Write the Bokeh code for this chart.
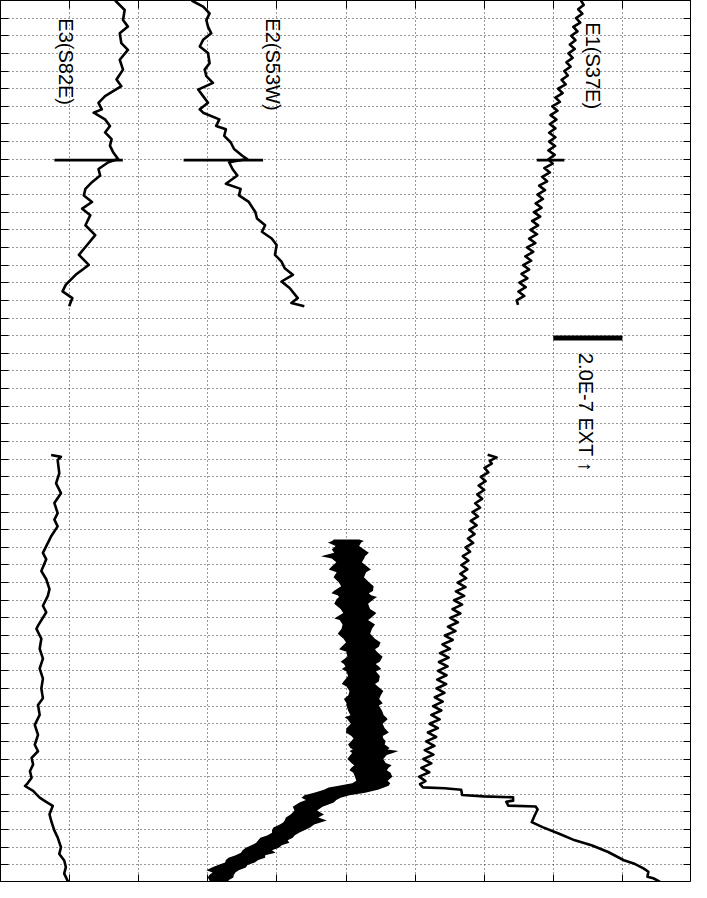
import math
from bokeh.plotting import figure
from bokeh.models import Range1d, FixedTicker, LinearAxis
from bokeh.core.properties import value
from bokeh.embed import file_html
from bokeh.resources import INLINE

# Strain axis: 10 units per grid division (one division = 2.0E-7 extension)
# Time axis: grid rows (0 at top, 50 at bottom)
X_GRID = [0, 10, 20, 30, 40, 50, 60, 70, 80, 90, 100]
T_GRID = list(range(0, 51))

# ---- E1 (S37E), first record ----
E1_TOP_T = [0.0, 0.25, 0.5, 0.75, 1.0, 1.25, 1.5, 1.75, 2.0, 2.25, 2.5, 2.75, 3.0, 3.25, 3.5, 3.75,
            4.0, 4.25, 4.5, 4.75, 5.0, 5.25, 5.5, 5.75, 6.0, 6.25, 6.5, 6.75, 7.0, 7.25, 7.5, 7.75,
            8.0, 8.25, 8.5, 8.75, 9.0, 9.25, 9.5, 9.75, 10.0, 10.25, 10.5, 10.75, 11.0, 11.25, 11.5,
            11.75, 12.0, 12.25, 12.5, 12.75, 13.0, 13.25, 13.5, 13.75, 14.0, 14.25, 14.5, 14.75,
            15.0, 15.25, 15.5, 15.75, 16.0, 16.25, 16.5, 16.75, 17.0, 17.25]
E1_TOP_X = [84.0, 84.4, 83.6, 84.2, 83.3, 83.9, 82.9, 83.5, 82.6, 83.2, 82.4, 83.1, 82.2, 82.8, 81.9,
            82.5, 81.6, 82.1, 81.2, 81.8, 80.7, 81.35, 80.3, 80.95, 79.85, 80.6, 79.6, 80.45, 79.5,
            80.3, 79.4, 80.3, 79.4, 80.25, 79.3, 80.2, 79.3, 79.9, 78.7, 79.5, 78.4, 79.1, 77.95,
            78.8, 77.7, 78.5, 77.45, 78.3, 77.2, 78.1, 76.95, 77.8, 76.7, 77.65, 76.5, 77.4, 76.2,
            77.1, 75.95, 76.8, 75.65, 76.5, 75.4, 76.25, 75.1, 76.0, 74.95, 75.8, 74.7, 74.9]

# ---- E2 (S53W), first record ----
E2_TOP_T = [0.0, 0.35, 0.73, 1.11, 1.48, 1.86, 2.23, 2.61, 2.98, 3.55, 3.92, 4.29, 4.67, 5.05, 5.42,
            5.80, 6.17, 6.36, 6.74, 7.11, 7.30, 7.67, 8.05, 8.42, 8.80, 8.99, 9.17, 9.55, 9.92,
            10.39, 10.68, 11.05, 11.42, 11.99, 12.36, 12.74, 13.11, 13.49, 13.86, 14.42, 14.80,
            15.18, 15.55, 15.93, 16.30, 16.87, 17.15, 17.33]
E2_TOP_X = [27.66, 29.32, 30.26, 29.79, 30.03, 30.50, 29.32, 28.84, 30.03, 30.26, 29.55, 29.79,
            30.74, 28.61, 29.32, 30.03, 28.84, 29.32, 31.67, 31.21, 32.62, 32.38, 33.33, 33.80,
            34.99, 35.70, 33.09, 33.57, 34.28, 32.62, 34.75, 34.51, 35.93, 36.88, 37.12, 38.30,
            37.83, 39.25, 39.96, 39.72, 40.67, 41.13, 42.31, 40.67, 41.84, 43.02, 42.09, 43.97]

# ---- E3 (S82E), first record ----
E3_TOP_T = [0.0, 0.54, 1.11, 1.48, 1.86, 2.42, 2.80, 3.36, 3.92, 4.48, 4.86, 5.42, 5.80, 6.17, 6.36,
            6.74, 7.11, 7.48, 7.86, 8.23, 8.61, 8.99, 9.17, 9.55, 9.92, 10.30, 10.68, 11.05, 11.42,
            11.80, 12.17, 12.74, 13.30, 13.86, 14.42, 14.99, 15.55, 16.11, 16.49, 16.87, 17.33]
E3_TOP_X = [16.6, 17.97, 17.73, 18.44, 17.26, 17.49, 18.44, 17.26, 17.73, 16.79, 17.49, 15.13, 14.18,
            14.66, 13.48, 15.13, 15.84, 15.13, 16.08, 15.84, 16.31, 17.02, 15.60, 14.18, 14.42,
            13.24, 12.29, 12.06, 13.24, 11.82, 13.00, 12.29, 13.71, 12.53, 11.35, 12.77, 10.87,
            9.46, 8.98, 10.40, 9.93]

# ---- E1, second record ----
E1_BOT_T = [25.75, 25.9, 26.1, 26.25, 26.5, 26.75, 27.0, 27.25, 27.5, 27.75, 28.0, 28.25, 28.5, 28.75,
            29.0, 29.25, 29.5, 29.75, 30.0, 30.25, 30.5, 30.75, 31.0, 31.25, 31.5, 31.75, 32.0,
            32.25, 32.5, 32.75, 33.0, 33.25, 33.5, 33.75, 34.0, 34.25, 34.5, 34.75, 35.0, 35.25,
            35.5, 35.75, 36.0, 36.25, 36.5, 36.75, 37.0, 37.25, 37.5, 37.75, 38.0, 38.25, 38.5,
            38.75, 39.0, 39.25, 39.5, 39.75, 40.0, 40.25, 40.5, 40.75, 41.0, 41.25, 41.5, 41.75,
            42.0, 42.25, 42.5, 42.75, 43.0, 43.25, 43.5, 43.75, 44.0, 44.25, 44.42, 44.61, 44.66,
            44.74, 45.04, 45.12, 45.17, 45.36, 45.42, 45.64, 45.69, 45.86, 46.2, 46.58, 46.86,
            47.24, 47.61, 47.89, 48.27, 48.74, 48.92, 49.2, 49.39, 49.67, 49.76, 49.96]
E1_BOT_X = [70.5, 71.8, 70.8, 71.1, 70.05, 70.6, 69.5, 70.2, 69.2, 70.0, 69.0, 69.7, 68.7, 69.4,
            68.3, 69.1, 68.05, 68.9, 67.85, 68.6, 67.65, 68.4, 67.3, 67.95, 66.9, 67.7, 66.7,
            67.55, 66.55, 67.4, 66.15, 67.3, 65.9, 67.1, 65.65, 66.8, 65.4, 66.55, 65.1, 66.2,
            64.75, 65.85, 64.3, 65.45, 63.95, 65.05, 63.6, 64.85, 63.45, 64.7, 63.3, 64.55, 63.2,
            64.5, 63.1, 64.25, 62.85, 64.0, 62.6, 63.8, 62.35, 63.55, 62.1, 63.3, 61.85, 63.05,
            61.6, 62.8, 61.4, 62.65, 61.2, 62.35, 60.9, 62.05, 60.6, 61.5, 60.71, 61.13, 64.26,
            66.67, 66.81, 69.93, 74.18, 74.18, 73.19, 73.48, 77.45, 77.73, 77.30, 76.88, 78.44,
            80.85, 83.12, 85.53, 87.94, 90.21, 91.63, 93.05, 93.76, 93.62, 94.47, 95.46]

# ---- E2, second record (noisy band: left / right envelope) ----
E2_BAND_T = [30.56, 30.64, 30.73, 30.92, 31.12, 31.3, 31.51, 31.63,
             31.85, 32.08, 32.25, 32.41, 32.7, 32.98, 33.2, 33.48,
             33.6, 33.71, 33.82, 33.93, 34.2, 34.5, 34.72, 34.95,
             35.03, 35.12, 35.37, 35.62, 35.9, 36.18, 36.4, 36.64,
             36.78, 36.92, 37.2, 37.48, 37.62, 37.76, 37.9, 38.04,
             38.3, 38.61, 38.75, 38.89, 39.15, 39.39, 39.6, 39.84,
             39.96, 40.25, 40.52, 40.63, 40.74, 41.0, 41.25, 41.5,
             41.7, 41.84, 41.98, 42.18, 42.37, 42.46, 42.54, 42.66,
             42.77, 43.0, 43.22, 43.36, 43.5, 43.64, 43.78, 44.0,
             44.23, 44.37, 44.51, 44.62, 44.74, 44.91, 45.05, 45.19,
             45.33, 45.47, 45.7, 45.92, 46.14, 46.31, 46.48, 46.6,
             46.71, 46.88, 47.04, 47.18, 47.33, 47.47, 47.61, 47.75,
             47.89, 48.03, 48.17, 48.31, 48.45, 48.59, 48.73, 48.87,
             49.01, 49.15, 49.3, 49.44, 49.58, 49.72, 49.86, 50.0]
E2_BAND_LO = [48.23, 48.0, 47.38, 48.5, 47.94, 48.3, 46.38, 47.94,
              48.6, 47.94, 47.5, 48.65, 48.2, 48.94, 49.3, 48.23,
              47.9, 48.79, 49.0, 48.65, 48.3, 49.22, 49.6, 48.65,
              48.3, 49.08, 49.5, 49.36, 48.8, 49.65, 50.0, 49.36,
              49.0, 50.07, 50.2, 49.22, 49.7, 49.93, 49.4, 50.07,
              50.3, 49.65, 49.4, 50.07, 50.5, 50.35, 49.7, 50.07,
              50.07, 50.3, 50.64, 49.8, 50.21, 50.7, 50.07, 50.0,
              50.78, 51.1, 50.78, 50.3, 50.64, 51.0, 50.5, 50.9,
              50.64, 50.2, 50.78, 51.2, 50.78, 50.5, 51.06, 51.3,
              51.49, 50.9, 48.94, 47.5, 46.81, 45.39, 44.0, 43.55,
              44.2, 43.26, 42.3, 42.55, 41.99, 41.3, 41.13, 40.9,
              40.43, 39.5, 39.29, 39.3, 38.58, 37.6, 37.3, 37.0,
              36.31, 35.5, 35.04, 34.8, 34.04, 33.0, 32.62, 32.5,
              31.49, 30.6, 29.79, 30.7, 30.21, 30.0, 30.21, 30.35]
E2_BAND_HI = [51.91, 52.6, 52.2, 51.9, 52.62, 53.3, 52.77, 52.62,
              52.3, 53.05, 53.6, 52.91, 52.6, 53.33, 54.0, 53.9,
              53.3, 53.62, 54.5, 54.04, 53.2, 53.48, 54.4, 53.76,
              53.5, 53.19, 54.2, 53.76, 53.5, 54.18, 55.0, 54.75,
              54.2, 54.47, 55.3, 54.89, 54.3, 54.75, 55.1, 54.33,
              54.9, 54.75, 54.2, 54.61, 55.4, 55.04, 54.8, 55.32,
              54.75, 55.2, 55.46, 55.8, 56.03, 55.3, 55.6, 56.2,
              55.32, 55.4, 55.74, 55.6, 56.31, 56.0, 57.59, 56.8,
              55.89, 55.4, 55.74, 56.6, 56.17, 55.9, 56.45, 56.7,
              56.03, 56.4, 56.17, 55.5, 54.61, 52.77, 50.5, 49.22,
              48.6, 48.23, 46.6, 45.82, 46.81, 46.0, 47.23, 46.3,
              45.39, 44.8, 43.97, 43.2, 42.55, 42.3, 41.56, 41.8,
              40.71, 40.3, 39.29, 39.8, 38.3, 38.3, 37.3, 36.8,
              35.74, 35.5, 34.47, 34.0, 33.76, 33.7, 33.05, 32.91]

# ---- E3, second record ----
E3_BOT_T = [25.77, 25.87, 26.06, 26.80, 27.37, 27.93, 28.49, 29.06, 29.43, 29.81, 30.37, 30.56,
            31.31, 31.68, 32.34, 32.81, 33.37, 33.75, 34.31, 34.68, 35.44, 35.62, 36.18, 36.75,
            37.31, 37.87, 38.44, 39.00, 39.56, 39.94, 40.50, 41.06, 41.63, 42.19, 42.56, 42.94,
            43.31, 43.69, 44.06, 44.44, 44.53, 44.81, 45.19, 45.37, 45.66, 46.13, 46.50, 47.06,
            47.44, 48.00, 48.38, 48.75, 49.13, 49.50, 49.88, 50.0]
E3_BOT_X = [7.33, 8.75, 8.27, 8.51, 8.04, 8.75, 7.80, 8.27, 7.80, 8.27, 7.33, 7.09, 6.14, 6.62, 5.91,
            6.62, 7.09, 6.85, 6.14, 6.62, 5.43, 5.20, 5.91, 5.67, 6.14, 5.67, 6.14, 5.91, 6.14,
            5.43, 5.67, 4.96, 5.43, 4.96, 5.43, 4.50, 4.72, 4.26, 4.50, 3.79, 3.55, 4.72, 5.67,
            6.38, 7.56, 7.09, 7.33, 7.80, 8.27, 8.75, 8.51, 9.22, 9.46, 9.22, 9.69, 9.85]

# ---- event markers, labels, scale ----
MARK_T = [9.05, 9.05, 9.05]
MARK_X0 = [77.6, 26.5, 7.8]
MARK_X1 = [81.6, 38.0, 17.7]

LABELS = ["E1(S37E)", "E2(S53W)", "E3(S82E)"]
LABEL_X = [85.8, 39.4, 9.5]
LABEL_T = [1.24, 1.01, 1.01]

SCALE_T = 19.13
SCALE_X0 = 80.0
SCALE_LEN = 10.0          # one division = 2.0E-7
SCALE_TEXT = "2.0E-7 EXT \u2191"
SCALE_TEXT_X = 84.8
SCALE_TEXT_T = 19.98

p = figure(width=691, height=882, x_range=Range1d(0, 100), y_range=Range1d(50, 0),
           output_backend="svg", toolbar_location=None, min_border=0,
           background_fill_color="white", border_fill_color="white")
p.outline_line_color = "black"
p.outline_line_width = 1

p.add_layout(LinearAxis(), "above")
p.add_layout(LinearAxis(), "right")
for ax in p.xaxis:
    ax.ticker = FixedTicker(ticks=X_GRID)
for ax in p.yaxis:
    ax.ticker = FixedTicker(ticks=T_GRID)
for ax in p.xaxis + p.yaxis:
    ax.major_tick_in = 8
    ax.major_tick_out = 0
    ax.major_tick_line_color = "black"
    ax.minor_tick_line_color = None
    ax.axis_line_color = None
    ax.major_label_text_font_size = "0px"
    ax.major_label_text_color = None
    ax.major_label_standoff = 0

p.xgrid.ticker = FixedTicker(ticks=X_GRID)
p.ygrid.ticker = FixedTicker(ticks=T_GRID)
for g in (p.xgrid, p.ygrid):
    g.grid_line_color = "black"
    g.grid_line_dash = "1 3"
    g.grid_line_width = 1
    g.grid_line_alpha = 0.8

LW = 2.6
p.line(E1_TOP_X, E1_TOP_T, line_color="black", line_width=LW, line_join="round")
p.line(E2_TOP_X, E2_TOP_T, line_color="black", line_width=LW, line_join="round")
p.line(E3_TOP_X, E3_TOP_T, line_color="black", line_width=LW, line_join="round")
p.line(E1_BOT_X, E1_BOT_T, line_color="black", line_width=LW, line_join="round")
p.line(E3_BOT_X, E3_BOT_T, line_color="black", line_width=LW, line_join="round")
p.harea(y=E2_BAND_T, x1=E2_BAND_LO, x2=E2_BAND_HI, fill_color="black")

p.segment(x0=MARK_X0, y0=MARK_T, x1=MARK_X1, y1=MARK_T, line_color="black", line_width=2.6)
p.segment(x0=[SCALE_X0], y0=[SCALE_T], x1=[SCALE_X0 + SCALE_LEN], y1=[SCALE_T],
          line_color="black", line_width=5, line_cap="butt")

p.text(x=LABEL_X, y=LABEL_T, text=LABELS, angle=-math.pi / 2, text_align="left",
       text_baseline="middle", text_font=value("Liberation Sans"), text_font_size="20px",
       text_color="black")
p.text(x=[SCALE_TEXT_X], y=[SCALE_TEXT_T], text=[SCALE_TEXT], angle=-math.pi / 2,
       text_align="left", text_baseline="middle", text_font=value("Liberation Sans"),
       text_font_size="20px", text_color="black")

open("out.html", "w").write(file_html(p, INLINE, title="Strain records"))
